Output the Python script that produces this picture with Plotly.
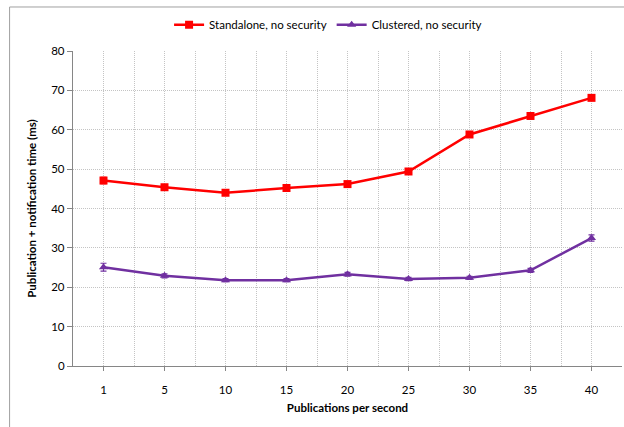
import plotly.graph_objects as go

# Publication rate (publications per second)
rates = ["1", "5", "10", "15", "20", "25", "30", "35", "40"]

# Publication + notification time (ms)
standalone = [47.1, 45.4, 44.0, 45.2, 46.2, 49.4, 58.8, 63.5, 68.1]
standalone_err = [0.8, 0.4, 0.4, 0.4, 0.4, 0.4, 0.5, 0.4, 0.4]
clustered = [25.1, 22.9, 21.8, 21.8, 23.3, 22.1, 22.4, 24.3, 32.5]
clustered_err = [1.0, 0.5, 0.4, 0.4, 0.5, 0.4, 0.4, 0.5, 0.8]

y_ticks = [0, 10, 20, 30, 40, 50, 60, 70, 80]

FONT = "Lato, 'Open Sans', sans-serif"
x_pos = list(range(len(rates)))

fig = go.Figure()
fig.add_trace(go.Scatter(
    x=x_pos, y=standalone, name="Standalone, no security",
    mode="lines+markers",
    line=dict(color="#ff0000", width=2.5),
    marker=dict(symbol="square", size=8, color="#ff0000"),
    error_y=dict(type="data", array=standalone_err, color="#ff0000",
                 thickness=1.2, width=3),
))
fig.add_trace(go.Scatter(
    x=x_pos, y=clustered, name="Clustered, no security",
    mode="lines+markers",
    line=dict(color="#7030a0", width=2.5),
    marker=dict(symbol="triangle-up", size=8, color="#7030a0"),
    error_y=dict(type="data", array=clustered_err, color="#7030a0",
                 thickness=1.2, width=3),
))

grid_color = "#c4c4c4"
grid_dash = "1px,1px"
fig.update_layout(
    width=624, height=427,
    margin=dict(l=72.5, r=1.5, t=51, b=61),
    paper_bgcolor="white", plot_bgcolor="white",
    font=dict(family=FONT, size=11.5, color="#000000"),
    showlegend=True,
    legend=dict(orientation="h", x=0.175, y=1.083, xanchor="left",
                yanchor="middle", font=dict(size=11.5),
                itemwidth=30, tracegroupgap=0, bgcolor="rgba(0,0,0,0)"),
    xaxis=dict(
        range=[-0.5, 8.5], tickmode="array", tickvals=x_pos, ticktext=rates,
        showgrid=True, gridcolor=grid_color, griddash=grid_dash, gridwidth=1,
        minor=dict(tickmode="linear", tick0=0.5, dtick=1, showgrid=True,
                   gridcolor=grid_color, griddash=grid_dash, gridwidth=1),
        showline=True, linecolor="#868686", linewidth=1.3,
        ticks="outside", ticklen=4, tickcolor="#868686",
        ticklabelstandoff=9,
        zeroline=False,
        title=dict(text="<b>Publications per second</b>", standoff=8,
                   font=dict(size=11.5)),
        fixedrange=True,
    ),
    yaxis=dict(
        range=[0, 80], tickvals=y_ticks,
        showgrid=True, gridcolor=grid_color, griddash=grid_dash, gridwidth=1,
        showline=True, linecolor="#868686", linewidth=1.3,
        ticks="outside", ticklen=5, tickcolor="#868686",
        zeroline=False,
        title=dict(text="<b>Publication + notification time (ms)</b>",
                   standoff=12, font=dict(size=11.5)),
        fixedrange=True,
    ),
    shapes=[dict(
        type="rect", xref="paper", yref="paper",
        x0=-0.1155, x1=1.2, y0=-0.5, y1=1.1397,
        line=dict(color="#a0a0a0", width=1), layer="below",
    )],
)

fig.write_html("out.html")
